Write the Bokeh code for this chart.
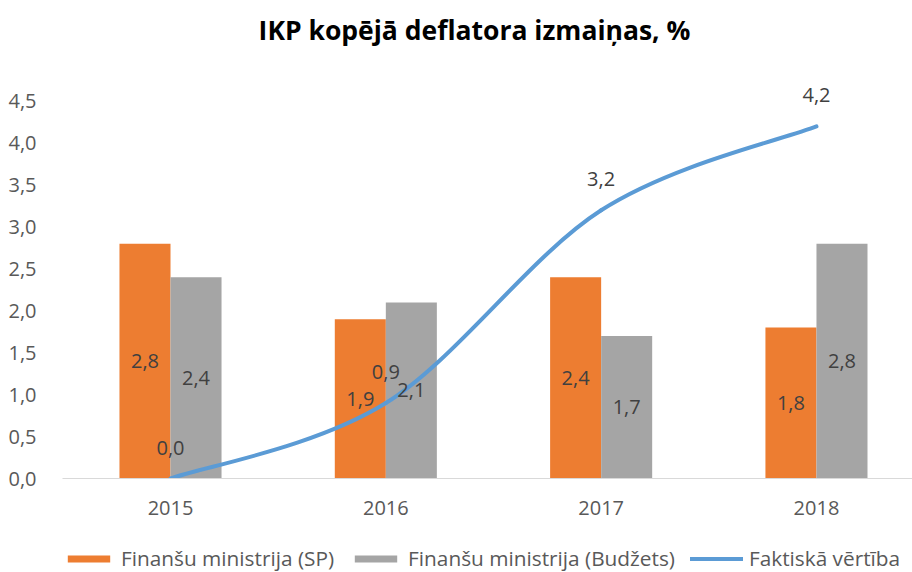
from bokeh.plotting import figure
from bokeh.layouts import column
from bokeh.models import (ColumnDataSource, FixedTicker, Legend, LegendItem)
from bokeh.core.properties import value
from bokeh.embed import file_html
from bokeh.resources import INLINE

# ---- data ----
years = ["2015", "2016", "2017", "2018"]
fm_sp = [2.8, 1.9, 2.4, 1.8]          # Finanšu ministrija (SP)
fm_budzets = [2.4, 2.1, 1.7, 2.8]     # Finanšu ministrija (Budžets)
faktiska = [0.0, 0.9, 3.2, 4.2]       # Faktiskā vērtība
y_ticks = [0.0, 0.5, 1.0, 1.5, 2.0, 2.5, 3.0, 3.5, 4.0, 4.5]
y_tick_labels = ["0,0", "0,5", "1,0", "1,5", "2,0", "2,5", "3,0", "3,5", "4,0", "4,5"]
series_names = ["Finanšu ministrija (SP)", "Finanšu ministrija (Budžets)", "Faktiskā vērtība"]
title_text = "IKP kopējā deflatora izmaiņas, %"

FONT = "Open Sans"
LABEL_COLOR = "#404040"
AXIS_COLOR = "#595959"
ORANGE = "#ED7D31"
GRAY = "#A5A5A5"
BLUE = "#5B9BD5"
W = 912
LEFT = 62
TITLE_H = 66
LEGEND_H = 44
MAIN_H = 572 - TITLE_H - LEGEND_H


def fmt(v):
    return f"{v:.1f}".replace(".", ",")


def strip(height, yr):
    # frames of a column are aligned with the main chart (left border LEFT),
    # so the x range is expressed in page pixels
    f = figure(width=W, height=height, output_backend="svg", toolbar_location=None,
               x_range=(LEFT, W), y_range=yr, min_border=0, min_border_left=LEFT,
               outline_line_color=None, x_axis_location=None, y_axis_location=None)
    f.xgrid.grid_line_color = None
    f.ygrid.grid_line_color = None
    return f


# ---- title strip ----
pt = strip(TITLE_H, (0, TITLE_H))
pt.text(x=[474], y=[TITLE_H - 29], text=[title_text], text_font=value(FONT),
        text_font_size="26.5px", text_font_style="bold", text_color="#000000",
        text_align="center", text_baseline="middle")

# ---- main chart ----
xs = list(range(1, len(years) + 1))
off = 0.1185
bw = 0.237

src = ColumnDataSource(dict(
    x=xs,
    x_sp=[x - off for x in xs],
    x_bu=[x + off for x in xs],
    sp=fm_sp, bu=fm_budzets, fa=faktiska,
    sp_mid=[v / 2 for v in fm_sp], bu_mid=[v / 2 for v in fm_budzets],
    sp_t=[fmt(v) for v in fm_sp], bu_t=[fmt(v) for v in fm_budzets],
    fa_t=[fmt(v) for v in faktiska],
))

frame_px = MAIN_H - 50            # frame height in px
y_top = frame_px / 83.83          # keep 83.83 px per unit

p = figure(width=W, height=MAIN_H, output_backend="svg", toolbar_location=None,
           x_range=(0.4984, 4.446), y_range=(0, y_top),
           min_border_left=LEFT, min_border_right=0, min_border_top=0,
           min_border_bottom=50, outline_line_color=None)

p.xgrid.grid_line_color = None
p.ygrid.grid_line_color = None

p.xaxis.ticker = FixedTicker(ticks=xs)
p.xaxis.major_label_overrides = {x: y for x, y in zip(xs, years)}
p.xaxis.axis_line_color = "#D9D9D9"
p.xaxis.axis_line_width = 1
p.xaxis.major_tick_line_color = None
p.xaxis.minor_tick_line_color = None
p.xaxis.major_label_text_font = FONT
p.xaxis.major_label_text_font_size = "20px"
p.xaxis.major_label_text_color = AXIS_COLOR
p.xaxis.major_label_standoff = 16

p.yaxis.ticker = FixedTicker(ticks=y_ticks)
p.yaxis.major_label_overrides = {t: l for t, l in zip(y_ticks, y_tick_labels)}
p.yaxis.axis_line_color = None
p.yaxis.major_tick_line_color = None
p.yaxis.minor_tick_line_color = None
p.yaxis.major_label_text_font = FONT
p.yaxis.major_label_text_font_size = "20px"
p.yaxis.major_label_text_color = AXIS_COLOR
p.yaxis.major_label_standoff = 20

# bars
p.vbar(x="x_sp", top="sp", width=bw, source=src, fill_color=ORANGE, line_color=None)
p.vbar(x="x_bu", top="bu", width=bw, source=src, fill_color=GRAY, line_color=None)

# smoothed line (Excel-style cubic Bezier through the data points)
n = len(xs)
px = xs
py = faktiska
x0, y0, x1, y1, cx0, cy0, cx1, cy1 = [], [], [], [], [], [], [], []
t = 1.0 / 6.0
for i in range(n - 1):
    ip = max(i - 1, 0)
    inn = min(i + 2, n - 1)
    x0.append(px[i]); y0.append(py[i])
    x1.append(px[i + 1]); y1.append(py[i + 1])
    cx0.append(px[i] + (px[i + 1] - px[ip]) * t)
    cy0.append(py[i] + (py[i + 1] - py[ip]) * t)
    cx1.append(px[i + 1] - (px[inn] - px[i]) * t)
    cy1.append(py[i + 1] - (py[inn] - py[i]) * t)
bsrc = ColumnDataSource(dict(x0=x0, y0=y0, x1=x1, y1=y1, cx0=cx0, cy0=cy0, cx1=cx1, cy1=cy1))
p.bezier(x0="x0", y0="y0", x1="x1", y1="y1", cx0="cx0", cy0="cy0",
         cx1="cx1", cy1="cy1", source=bsrc, line_color=BLUE, line_width=4,
         line_cap="round")

# data labels
lab_kw = dict(text_font=value(FONT), text_font_size="20px", text_color=LABEL_COLOR,
              text_align="center", text_baseline="middle")
p.text(x="x_sp", y="sp_mid", text="sp_t", source=src, **lab_kw)
p.text(x="x_bu", y="bu_mid", text="bu_t", source=src, **lab_kw)
p.text(x="x", y="fa", text="fa_t", source=src, y_offset=-31, **lab_kw)

# ---- legend strip ----
pl = strip(LEGEND_H, (0, 1))
hidden = ColumnDataSource(dict(x=[-5000, -4000], y=[-50, -50], bottom=[-60, -60],
                               top=[-50, -50]))  # far outside the strip's view
l_sp = pl.vbar(x="x", bottom="bottom", top="top", width=1, source=hidden,
               fill_color=ORANGE, line_color=None)
l_bu = pl.vbar(x="x", bottom="bottom", top="top", width=1, source=hidden,
               fill_color=GRAY, line_color=None)
l_fa = pl.line(x="x", y="y", source=hidden, line_color=BLUE, line_width=4, line_cap="round")

legend = Legend(items=[LegendItem(label=series_names[0], renderers=[l_sp]),
                       LegendItem(label=series_names[1], renderers=[l_bu]),
                       LegendItem(label=series_names[2], renderers=[l_fa])],
                orientation="horizontal", location=(0, 0),
                label_text_font=FONT, label_text_font_size="20.8px",
                label_text_color=AXIS_COLOR, glyph_width=53, glyph_height=9,
                label_standoff=6, spacing=15, padding=0, margin=0,
                border_line_color=None, background_fill_alpha=0)
pl.add_layout(legend)

layout = column(pt, p, pl, spacing=0)
open("out.html", "w").write(file_html(layout, INLINE))
